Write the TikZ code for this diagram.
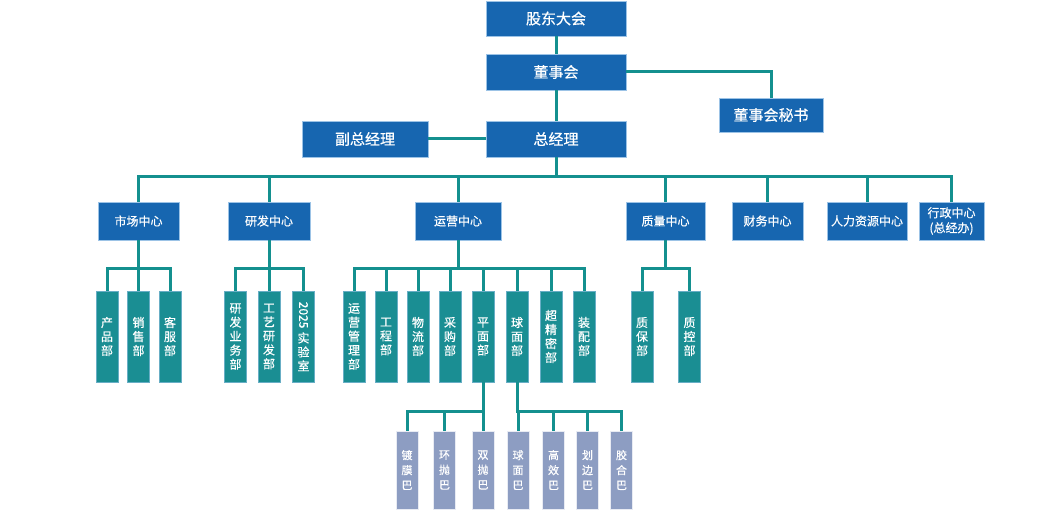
\documentclass[tikz,border=0pt]{standalone}
\usepackage{fontspec}
\usepackage{graphicx}
\newfontfamily\cjk{Noto Sans CJK SC}[FakeBold=0.5]
\definecolor{cblue}{HTML}{1766B0}
\definecolor{cedge}{HTML}{9CC3E6}
\definecolor{cteal}{HTML}{14908F}
\definecolor{cleaf}{HTML}{1A8E93}
\definecolor{clila}{HTML}{8D9DC2}
\begin{document}
\begin{tikzpicture}[x=1pt,y=-1pt,
  box/.style={fill=cblue,draw=cedge,line width=0.7pt,text=white,inner sep=0pt,align=center},
  topbox/.style={box,font=\cjk\fontsize{15}{17}\selectfont},
  ctrbox/.style={box,font=\cjk\fontsize{12}{15}\selectfont,minimum height=38pt},
  leaf/.style={fill=cleaf,draw=cedge!60!cleaf,line width=0.6pt,text=white,inner sep=0pt,align=center,
    minimum width=22pt,minimum height=91pt,font=\cjk\fontsize{12}{14}\selectfont},
  sleaf/.style={fill=clila,draw=white!80!clila,line width=0.6pt,text=white,inner sep=0pt,align=center,
    minimum width=22pt,minimum height=78pt,font=\cjk\fontsize{11}{15}\selectfont},
  conn/.style={draw=cteal,line width=3pt}]
\useasboundingbox (0,0) rectangle (1050,510);
% top
\node[topbox,minimum width=140pt,minimum height=35pt] (gd) at (556,18.5) {股东大会};
\node[topbox,minimum width=140pt,minimum height=36pt] (dsh) at (556,72) {董事会};
\node[topbox,minimum width=140pt,minimum height=36pt] (zjl) at (556,139) {总经理};
\node[topbox,minimum width=126pt,minimum height=36pt] (fzjl) at (365,139) {副总经理};
\node[topbox,minimum width=104pt,minimum height=34pt] (msh) at (771,115) {董事会秘书};
% centres
\node[ctrbox,minimum width=81pt] (sc) at (138.5,221) {市场中心};
\node[ctrbox,minimum width=82pt] (yf) at (269,221) {研发中心};
\node[ctrbox,minimum width=86pt] (yy) at (458,221) {运营中心};
\node[ctrbox,minimum width=79pt] (zl) at (665.5,221) {质量中心};
\node[ctrbox,minimum width=71pt] (cw) at (767.5,221) {财务中心};
\node[ctrbox,minimum width=80pt] (rl) at (867,221) {人力资源中心};
\node[ctrbox,minimum width=65pt] (xz) at (951.5,221) {行政中心\\(总经办)};
% leaves
\node[leaf] (cp) at (107,336.5) {产\\品\\部};
\node[leaf] (xs) at (138.5,336.5) {销\\售\\部};
\node[leaf] (kf) at (170,336.5) {客\\服\\部};
\node[leaf] (ywb) at (235.5,336.5) {研\\发\\业\\务\\部};
\node[leaf] (gy) at (269,336.5) {工\\艺\\研\\发\\部};
\node[leaf] (sys) at (303.5,336.5) {\rotatebox{-90}{2025}\\[3pt]实\\验\\室};
\node[leaf] (yygl) at (354,336.5) {运\\营\\管\\理\\部};
\node[leaf] (gc) at (386,336.5) {工\\程\\部};
\node[leaf] (wl) at (418,336.5) {物\\流\\部};
\node[leaf] (cg) at (450,336.5) {采\\购\\部};
\node[leaf] (pm) at (483,336.5) {平\\面\\部};
\node[leaf] (qm) at (517,336.5) {球\\面\\部};
\node[leaf] (cjm) at (551,336.5) {超\\精\\密\\部};
\node[leaf] (zp) at (584,336.5) {装\\配\\部};
\node[leaf] (zb) at (642,336.5) {质\\保\\部};
\node[leaf] (zk) at (689.5,336.5) {质\\控\\部};
% sub-leaves
\node[sleaf] (dm) at (407,470) {镀\\膜\\巴};
\node[sleaf] (hp) at (444.5,470) {环\\抛\\巴};
\node[sleaf] (sp) at (483,470) {双\\抛\\巴};
\node[sleaf] (qmb) at (518,470) {球\\面\\巴};
\node[sleaf] (gx) at (553.5,470) {高\\效\\巴};
\node[sleaf] (hb) at (587.5,470) {划\\边\\巴};
\node[sleaf] (jh) at (621.5,470) {胶\\合\\巴};
% bus levels
\coordinate (b1) at (0,177);
\coordinate (b2) at (0,269);
\coordinate (b3) at (0,412);
% connectors
\draw[conn] (gd.south) -- (dsh.north);
\draw[conn] (dsh.south) -- (zjl.north);
\draw[conn] (dsh.east) -| (msh.north);
\draw[conn] (fzjl.east) -- (zjl.west);
\foreach \c in {sc,yf,yy,zl,cw,rl,xz}
  \draw[conn] (zjl.south) -- (zjl.south |- b1) -| (\c.north);
\foreach \c in {cp,xs,kf}
  \draw[conn] (sc.south) -- (sc.south |- b2) -| (\c.north);
\foreach \c in {ywb,gy,sys}
  \draw[conn] (yf.south) -- (yf.south |- b2) -| (\c.north);
\foreach \c in {yygl,gc,wl,cg,pm,qm,cjm,zp}
  \draw[conn] (yy.south) -- (yy.south |- b2) -| (\c.north);
\foreach \c in {zb,zk}
  \draw[conn] (zl.south) -- (zl.south |- b2) -| (\c.north);
\foreach \c in {dm,hp,sp}
  \draw[conn] (pm.south) -- (pm.south |- b3) -| (\c.north);
\foreach \c in {qmb,gx,hb,jh}
  \draw[conn] (qm.south) -- (qm.south |- b3) -| (\c.north);
\end{tikzpicture}
\end{document}
